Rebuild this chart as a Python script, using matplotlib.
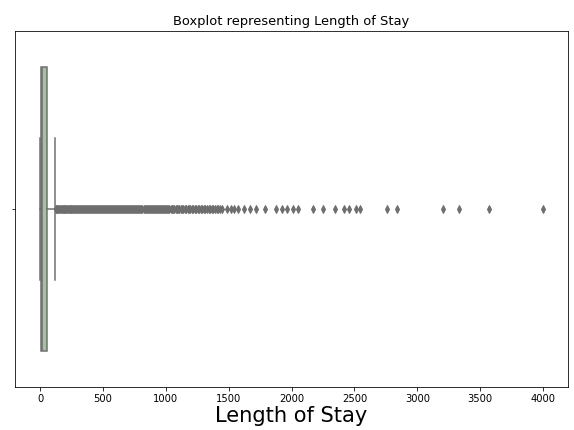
import matplotlib
matplotlib.use('Agg')
import matplotlib.pyplot as plt

# box summary of Length of Stay (days)
q1 = 3
median = 18
q3 = 52
whisker_low = 0
whisker_high = 118

# outliers, dense part first then the sparse tail
dense_outliers = [124, 130, 137, 144, 151, 158, 165, 172, 179, 186, 193, 200, 207,
                  214, 221, 228, 235, 242, 249, 256, 263, 270, 278, 286, 294, 302, 310,
                  318, 326, 334, 342, 350, 358, 366, 374, 382, 390, 398, 406, 414, 422,
                  430, 438, 446, 454, 462, 470, 478, 486, 494, 502, 510, 518, 526, 534,
                  542, 550, 558, 566, 574, 582, 590, 598, 606, 614, 622, 630, 638, 646,
                  654, 662, 670, 678, 686, 694, 702, 710, 718, 726, 734, 742, 750, 758,
                  766, 774, 782, 790, 798, 806, 814, 822, 830, 838, 846, 854, 862, 870,
                  878, 886, 894, 902, 910, 918, 926, 934, 942, 950, 958, 966, 974, 982,
                  990, 998, 1008, 1018, 1028, 1038, 1048, 1058, 1068, 1078, 1088, 1098,
                  1108, 1118, 1129, 1140, 1151, 1162, 1173, 1184, 1195, 1206, 1217,
                  1229, 1241, 1253, 1265, 1277, 1289, 1301, 1313, 1326, 1339, 1352,
                  1365, 1378, 1391, 1404, 1417, 1430, 1443]
tail_outliers = [1490, 1515, 1545, 1570, 1625, 1670, 1715, 1790, 1875, 1920, 1965,
                 2010, 2050, 2173, 2248, 2345, 2420, 2460, 2510, 2545, 2757, 2836,
                 3207, 3334, 3567, 3996]

face = '#a5c2a0'
gray = '#6e6e6e'

fig = plt.figure(figsize=(574 / 72, 430 / 72), dpi=72)
ax = fig.add_axes([15 / 574, 43 / 430, 553 / 574, 356 / 430])

stats = [{
    'med': median, 'q1': q1, 'q3': q3,
    'whislo': whisker_low, 'whishi': whisker_high,
    'fliers': dense_outliers + tail_outliers,
}]
ax.bxp(stats, positions=[0], widths=0.8, capwidths=0.4, orientation='horizontal',
       patch_artist=True,
       boxprops=dict(facecolor=face, edgecolor=gray, linewidth=1.5),
       medianprops=dict(color=gray, linewidth=1.5),
       whiskerprops=dict(color=gray, linewidth=1.5),
       capprops=dict(color=gray, linewidth=1.5),
       flierprops=dict(marker='d', markersize=5, markerfacecolor=gray,
                       markeredgecolor=gray))

ax.set_ylim(0.5, -0.5)
ax.set_yticks([0])
ax.set_yticklabels([''])
ax.set_xlim(-200, 4198)
ax.set_xticks([0, 500, 1000, 1500, 2000, 2500, 3000, 3500, 4000])

ax.set_title('Boxplot representing Length of Stay', fontsize=13, pad=6)
ax.set_xlabel('Length of Stay', fontsize=21, labelpad=2)

fig.savefig('out.png', dpi=72)
